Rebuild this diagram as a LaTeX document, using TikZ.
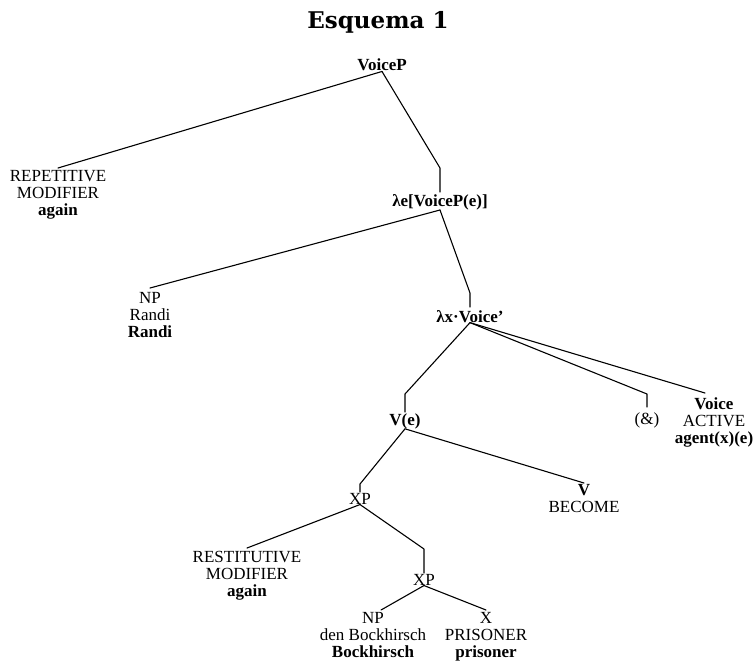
\documentclass[tikz,border=0pt]{standalone}
\usepackage{fontspec}
\setmainfont{Liberation Serif}
\newfontfamily\titlefont{DejaVu Serif}
\begin{document}
\begin{tikzpicture}[x=1pt,y=-1pt,
  lbl/.style={inner sep=0pt, anchor=north, align=center, font=\fontsize{17}{17}\selectfont},
  edge/.style={line width=1.1pt, line join=round, line cap=round}]
\useasboundingbox (0,0) rectangle (754,662);
\node[font=\titlefont\bfseries\fontsize{23}{26}\selectfont] (title) at (378,22.5) {Esquema 1};

\node[lbl] (voicep) at (382,59) {\textbf{VoiceP}};
\node[lbl] (rep) at (58,170) {REPETITIVE\\MODIFIER\\\textbf{again}};
\node[lbl] (lame) at (440,194) {\textbf{λe[VoiceP(e)]}};
\node[lbl] (np1) at (150,292) {NP\\Randi\\\textbf{Randi}};
\node[lbl] (lamx) at (470,310) {\textbf{λx·Voice’}};
\node[lbl] (ve) at (405,413) {\textbf{V(e)}};
\node[lbl] (amp) at (647,412) {(\&)};
\node[lbl] (voice) at (714,397) {\textbf{Voice}\\ACTIVE\\\textbf{agent(x)(e)}};
\node[lbl] (vbec) at (584,484) {\textbf{V}\\BECOME};
\node[lbl] (xp1) at (360,493) {XP};
\node[lbl] (rest) at (247,551) {RESTITUTIVE\\MODIFIER\\\textbf{again}};
\node[lbl] (xp2) at (424,574) {XP};
\node[lbl] (np2) at (373,612) {NP\\den Bockhirsch\\\textbf{Bockhirsch}};
\node[lbl] (xx) at (486,612) {X\\PRISONER\\\textbf{prisoner}};

\draw[edge] (voicep.south) -- ([yshift=2pt]rep.north);
\draw[edge] (voicep.south) -- ([yshift=26pt]lame.north) -- ([yshift=2pt]lame.north);
\draw[edge] (lame.south) -- ([yshift=4pt]np1.north);
\draw[edge] (lame.south) -- ([yshift=17pt]lamx.north) -- ([yshift=3pt]lamx.north);
\draw[edge] (lamx.south) -- ([yshift=19pt]ve.north) -- ([yshift=1pt]ve.north);
\draw[edge] (lamx.south) -- ([yshift=18pt]amp.north) -- ([yshift=5pt]amp.north);
\draw[edge] (lamx.south) -- ([xshift=-9pt,yshift=4pt]voice.north);
\draw[edge] (ve.south) -- ([yshift=1pt]vbec.north);
\draw[edge] (ve.south) -- ([yshift=9pt]xp1.north) -- ([yshift=1pt]xp1.north);
\draw[edge] (xp1.south) -- ([yshift=3pt]rest.north);
\draw[edge] (xp1.south) -- ([yshift=25pt]xp2.north) -- ([yshift=1pt]xp2.north);
\draw[edge] (xp2.south) -- ([xshift=8pt,yshift=2pt]np2.north);
\draw[edge] (xp2.south) -- ([yshift=2pt]xx.north);
\end{tikzpicture}
\end{document}
